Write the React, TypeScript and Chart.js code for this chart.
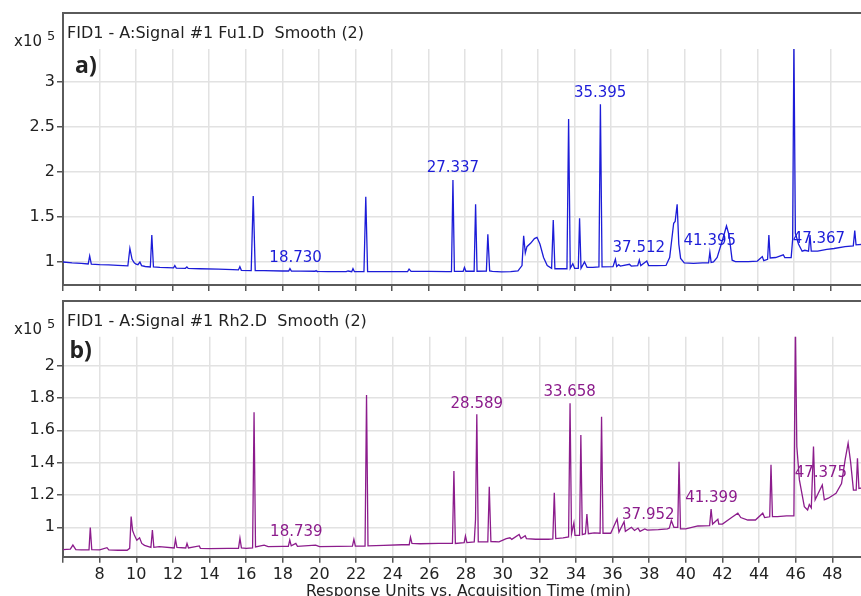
import React, { useEffect, useRef } from 'react';
import { Chart, registerables } from 'chart.js';

Chart.register(...registerables);

const FONT = '"DejaVu Sans", Verdana, sans-serif';

// ---- panel a) Fu1.D ----
const fuTimes = [
  6.0, 6.5, 7.0, 7.38, 7.46, 7.55, 8.0, 8.5, 9.0, 9.55, 9.66, 9.78, 9.9, 10.0, 10.1, 10.21, 10.3, 10.5,
  10.78, 10.86, 10.95, 11.3, 12.05, 12.12, 12.2, 12.7, 12.78, 12.85, 13.5, 14.5, 15.3, 15.6, 15.68, 15.76,
  16.3, 16.41, 16.52, 17.0, 18.0, 18.35, 18.42, 18.5, 19.0, 19.8, 19.85, 19.9, 20.5, 21.5, 21.6, 21.8,
  21.87, 21.95, 22.47, 22.57, 22.67, 23.5, 24.4, 24.86, 24.94, 25.05, 26.0, 27.0, 27.26, 27.34, 27.42,
  27.9, 27.97, 28.05, 28.5, 28.58, 28.66, 29.17, 29.25, 29.35, 29.5, 30.0, 30.5, 30.9, 31.12, 31.21,
  31.3, 31.39, 31.6, 31.8, 31.94, 32.1, 32.3, 32.5, 32.74, 32.83, 32.92, 33.2, 33.58, 33.67, 33.76,
  33.9, 34.0, 34.2, 34.27, 34.35, 34.54, 34.68, 35.0, 35.33, 35.41, 35.5, 36.1, 36.23, 36.3, 36.41,
  36.5, 37.0, 37.1, 37.45, 37.54, 37.62, 37.95, 38.05, 38.5, 39.0, 39.2, 39.42, 39.5, 39.61, 39.7,
  39.8, 40.0, 40.5, 41.0, 41.33, 41.4, 41.47, 41.6, 41.8, 42.1, 42.31, 42.45, 42.62, 42.8, 43.5, 44.0,
  44.27, 44.35, 44.56, 44.63, 44.7, 45.0, 45.42, 45.5, 45.85, 45.93, 46.0, 46.08, 46.25, 46.45, 46.6,
  46.8, 46.88, 46.95, 47.3, 47.8, 48.2, 48.8, 49.25, 49.33, 49.4, 50.0,
];
const fuSignal = [
  1.0, 0.99, 0.985, 0.978, 1.067, 0.975, 0.97, 0.968, 0.963, 0.958, 1.152, 1.03, 0.99, 0.975, 0.97, 1.0, 0.96, 0.95,
  0.945, 1.3, 0.945, 0.94, 0.935, 0.96, 0.933, 0.93, 0.945, 0.928, 0.925, 0.92, 0.915, 0.912, 0.948, 0.908,
  0.905, 1.733, 0.905, 0.905, 0.9, 0.9, 0.926, 0.898, 0.898, 0.897, 0.905, 0.895, 0.893, 0.892, 0.9, 0.892,
  0.926, 0.892, 0.893, 1.726, 0.893, 0.892, 0.893, 0.894, 0.922, 0.895, 0.895, 0.894, 0.894, 1.911, 0.895,
  0.897, 0.94, 0.897, 0.897, 1.641, 0.897, 0.9, 1.308, 0.9, 0.895, 0.89, 0.892, 0.9, 0.96, 1.292,
  1.1, 1.17, 1.21, 1.26, 1.274, 1.2, 1.05, 0.96, 0.93, 1.467, 0.925, 0.925, 0.925, 2.589, 0.93,
  0.98, 0.93, 0.93, 1.486, 0.93, 1.0, 0.94, 0.94, 0.945, 2.752, 0.945, 0.948, 1.03, 0.95, 0.97,
  0.955, 0.975, 0.955, 0.96, 1.022, 0.96, 1.01, 0.96, 0.96, 0.962, 1.05, 1.43, 1.45, 1.641, 1.2,
  1.04, 0.99, 0.985, 0.99, 0.99, 1.108, 0.995, 1.0, 1.05, 1.25, 1.4, 1.3, 1.02, 1.005, 1.005, 1.01,
  1.06, 1.015, 1.03, 1.3, 1.045, 1.05, 1.08, 1.05, 1.048, 1.25, 3.45, 1.32, 1.2, 1.12, 1.13,
  1.12, 1.3, 1.12, 1.12, 1.14, 1.15, 1.17, 1.18, 1.348, 1.19, 1.2,
];
const fuPeakLabels = ['18.730', '27.337', '35.395', '37.512', '41.395', '47.367'];
const fuLabelLevels = [1.044, 2.044, 2.88, 1.156, 1.237, 1.252];
const fuYTicks = [1, 1.5, 2, 2.5, 3];

// ---- panel b) Rh2.D ----
const rhTimes = [
  6.0, 6.4, 6.54, 6.7, 7.0, 7.42, 7.49, 7.57, 8.0, 8.4, 8.5, 9.0, 9.5, 9.64, 9.72, 9.8, 9.9, 10.03, 10.18,
  10.3, 10.45, 10.8, 10.88, 10.96, 11.26, 12.07, 12.14, 12.22, 12.7, 12.77, 12.85, 13.44, 13.5, 14.0, 15.0,
  15.58, 15.66, 15.74, 16.0, 16.35, 16.43, 16.51, 16.98, 17.2, 18.0, 18.3, 18.38, 18.46, 18.71, 18.8,
  19.79, 20.0, 21.0, 21.8, 21.88, 21.96, 22.49, 22.57, 22.65, 23.5, 24.5, 24.9, 24.97, 25.05, 25.5,
  26.5, 27.26, 27.34, 27.42, 27.9, 27.97, 28.05, 28.45, 28.52, 28.59, 28.67, 29.19, 29.27, 29.36, 29.8,
  30.2, 30.4, 30.5, 30.9, 31.0, 31.23, 31.3, 31.8, 32.5, 32.74, 32.82, 32.9, 33.3, 33.6, 33.68, 33.76,
  33.89, 33.95, 34.2, 34.27, 34.35, 34.52, 34.6, 34.68, 35.0, 35.32, 35.4, 35.48, 35.9, 36.25, 36.35,
  36.63, 36.7, 37.03, 37.2, 37.39, 37.5, 37.76, 37.9, 38.5, 39.0, 39.1, 39.21, 39.35, 39.56, 39.63,
  39.71, 40.0, 40.66, 41.3, 41.38, 41.46, 41.75, 41.8, 42.0, 42.5, 42.84, 43.0, 43.38, 43.8, 44.2, 44.3,
  44.58, 44.65, 44.73, 45.0, 45.5, 45.9, 45.98, 46.06, 46.2, 46.47, 46.65, 46.74, 46.85, 46.97, 47.06,
  47.27, 47.45, 47.56, 47.78, 48.2, 48.5, 48.7, 48.86, 49.0, 49.15, 49.3, 49.37, 49.45, 50.0,
];
const rhSignal = [
  0.862, 0.865, 0.89, 0.862, 0.86, 0.86, 0.998, 0.862, 0.86, 0.874, 0.86, 0.858, 0.858, 0.87, 1.066, 0.98, 0.95, 0.92, 0.935,
  0.9, 0.888, 0.876, 0.983, 0.876, 0.88, 0.872, 0.926, 0.875, 0.872, 0.9, 0.872, 0.885, 0.87, 0.868, 0.87,
  0.87, 0.932, 0.872, 0.87, 0.872, 1.712, 0.878, 0.89, 0.88, 0.882, 0.882, 0.921, 0.885, 0.9, 0.882,
  0.89, 0.88, 0.882, 0.883, 0.926, 0.884, 0.884, 1.819, 0.885, 0.888, 0.892, 0.892, 0.938, 0.9, 0.898,
  0.9, 0.9, 1.348, 0.9, 0.905, 0.946, 0.905, 0.91, 1.05, 1.699, 0.91, 0.91, 1.251, 0.912, 0.91,
  0.93, 0.935, 0.925, 0.955, 0.93, 0.948, 0.93, 0.926, 0.926, 0.928, 1.214, 0.93, 0.935, 0.94, 1.767, 0.96,
  1.028, 0.95, 0.95, 1.571, 0.955, 0.96, 1.082, 0.96, 0.965, 0.963, 1.684, 0.963, 0.963, 1.051, 0.97,
  1.035, 0.975, 1.0, 0.98, 0.995, 0.975, 0.99, 0.982, 0.985, 0.99, 0.995, 1.041, 1.0, 1.0, 1.406,
  0.99, 0.99, 1.008, 1.01, 1.113, 1.02, 1.05, 1.02, 1.02, 1.06, 1.087, 1.06, 1.045, 1.045, 1.087, 1.06,
  1.065, 1.386, 1.066, 1.066, 1.07, 1.07, 2.25, 1.5, 1.293, 1.128, 1.107, 1.14, 1.12, 1.499, 1.17,
  1.22, 1.262, 1.17, 1.18, 1.21, 1.27, 1.42, 1.52, 1.4, 1.23, 1.23, 1.427, 1.24, 1.25,
];
const rhPeakLabels = ['18.739', '28.589', '33.658', '37.952', '41.399', '47.375'];
const rhLabelLevels = [0.973, 1.763, 1.839, 1.076, 1.179, 1.334];
const rhYTicks = [1, 1.2, 1.4, 1.6, 1.8, 2];

const timeMin = 6;
const timeMax = 50;
const timeStep = 2;

type PanelProps = {
  top: number;
  width: number;
  height: number;
  times: number[];
  signal: number[];
  color: string;
  labels: string[];
  labelLevels: number[];
  yTicks: number[];
  yMin: number;
  yMax: number;
  padTop: number;
  xAxisHeight: number;
  frameTop: number;
  header: string;
  letter: string;
  letterX: number;
  letterY: number;
  showXLabels: boolean;
  axisTitle?: string;
};

function Panel(p: PanelProps) {
  const ref = useRef<HTMLCanvasElement | null>(null);
  useEffect(() => {
    if (!ref.current) return;
    const decor = {
      id: 'decor',
      afterDatasetsDraw(chart: any) {
        const ctx = chart.ctx as CanvasRenderingContext2D;
        const area = chart.chartArea;
        const xs = chart.scales.x;
        const ys = chart.scales.y;
        ctx.save();
        // peak labels
        ctx.fillStyle = p.color;
        ctx.font = `15px ${FONT}`;
        ctx.textAlign = 'center';
        ctx.textBaseline = 'middle';
        p.labels.forEach((lab, i) => {
          ctx.fillText(lab, xs.getPixelForValue(parseFloat(lab)), ys.getPixelForValue(p.labelLevels[i]));
        });
        // frame
        ctx.strokeStyle = '#5a5a5a';
        ctx.lineWidth = 2;
        ctx.beginPath();
        ctx.moveTo(area.left, area.top + 1);
        ctx.lineTo(area.left, p.frameTop);
        ctx.lineTo(chart.width, p.frameTop);
        ctx.stroke();
        // header
        ctx.fillStyle = '#222';
        ctx.textAlign = 'left';
        ctx.textBaseline = 'alphabetic';
        ctx.font = `16px ${FONT}`;
        ctx.fillText(p.header, area.left + 4, p.frameTop + 24.5);
        // exponent label
        ctx.font = `15px ${FONT}`;
        ctx.fillText('x10', 14, p.frameTop + 33);
        ctx.font = `13px ${FONT}`;
        ctx.fillText('5', 47, p.frameTop + 27);
        // panel letter
        ctx.font = `bold 23px "Open Sans", ${FONT}`;
        ctx.fillText(p.letter, p.letterX, p.letterY);
        // axis title
        if (p.axisTitle) {
          ctx.font = `15.5px ${FONT}`;
          ctx.textAlign = 'center';
          ctx.textBaseline = 'middle';
          ctx.fillText(p.axisTitle, 468.5, p.height - 4);
        }
        ctx.restore();
      },
    };
    const chart = new Chart(ref.current, {
      type: 'line',
      data: {
        datasets: [
          {
            data: p.times.map((t, i) => ({ x: t, y: p.signal[i] })),
            borderColor: p.color,
            borderWidth: 1.3,
            pointRadius: 0,
            tension: 0,
            fill: false,
          },
        ],
      },
      options: {
        animation: false,
        responsive: false,
        maintainAspectRatio: false,
        layout: { padding: { top: p.padTop, left: 0, right: 0, bottom: 0 } },
        plugins: { legend: { display: false }, tooltip: { enabled: false }, title: { display: false } },
        scales: {
          x: {
            type: 'linear',
            min: timeMin,
            max: timeMax,
            afterFit: (s: any) => {
              s.height = p.xAxisHeight;
            },
            ticks: {
              stepSize: timeStep,
              display: p.showXLabels,
              autoSkip: false,
              maxRotation: 0,
              padding: 3,
              color: '#222',
              font: { family: FONT, size: 16 },
              callback: (v: any) => (v === timeMin || v === timeMax ? '' : String(v)),
            },
            grid: { color: '#e2e2e2', lineWidth: 1.5, tickColor: '#555', tickLength: 6, drawTicks: true },
            border: { color: '#5a5a5a', width: 2 },
          },
          y: {
            type: 'linear',
            min: p.yMin,
            max: p.yMax,
            afterFit: (s: any) => {
              s.width = 63;
            },
            afterBuildTicks: (s: any) => {
              s.ticks = p.yTicks.map((v) => ({ value: v }));
            },
            ticks: {
              padding: 2,
              color: '#222',
              font: { family: FONT, size: 16 },
              callback: (v: any) => String(v),
            },
            grid: { color: '#e2e2e2', lineWidth: 1.5, tickColor: '#555', tickLength: 6, drawTicks: true },
            border: { color: '#5a5a5a', width: 2 },
          },
        },
      },
      plugins: [decor],
    } as any);
    return () => chart.destroy();
  }, []);
  return (
    <canvas
      ref={ref}
      width={p.width}
      height={p.height}
      style={{ position: 'absolute', left: 0, top: p.top, width: p.width, height: p.height, display: 'block' }}
    />
  );
}

export default function App() {
  return (
    <div
      style={{ position: 'fixed', left: 0, top: 0, width: 861, height: 596, overflow: 'hidden', background: '#fff' }}
    >
      <Panel
        top={0}
        width={867}
        height={300}
        times={fuTimes}
        signal={fuSignal}
        color="#1c1cd8"
        labels={fuPeakLabels}
        labelLevels={fuLabelLevels}
        yTicks={fuYTicks}
        yMin={0.7444}
        yMax={3.3667}
        padTop={49}
        xAxisHeight={15}
        frameTop={13}
        header="FID1 - A:Signal #1 Fu1.D  Smooth (2)"
        letter="a)"
        letterX={75}
        letterY={73}
        showXLabels={false}
      />
      <Panel
        top={300}
        width={872}
        height={296}
        times={rhTimes}
        signal={rhSignal}
        color="#8c1c8c"
        labels={rhPeakLabels}
        labelLevels={rhLabelLevels}
        yTicks={rhYTicks}
        yMin={0.818}
        yMax={2.179}
        padTop={36.7}
        xAxisHeight={39.3}
        frameTop={1}
        header="FID1 - A:Signal #1 Rh2.D  Smooth (2)"
        letter="b)"
        letterX={69.5}
        letterY={58}
        showXLabels={true}
        axisTitle="Response Units vs. Acquisition Time (min)"
      />
    </div>
  );
}
